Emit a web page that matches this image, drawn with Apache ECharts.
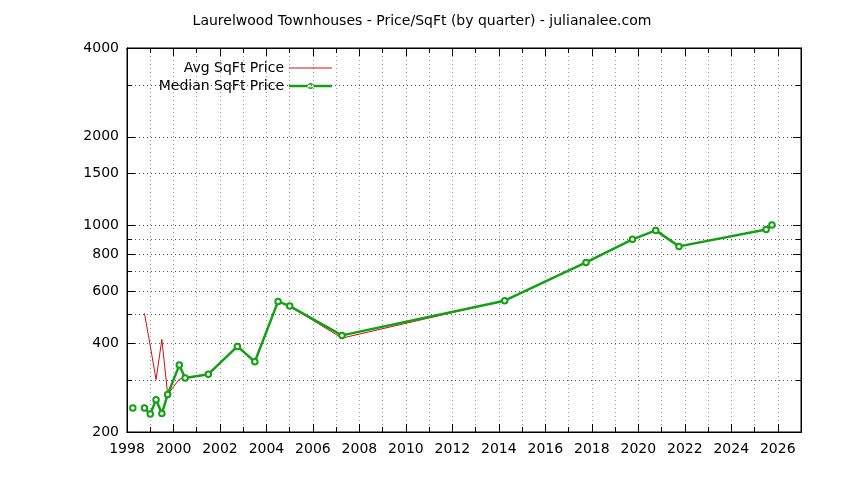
<!DOCTYPE html>
<html lang="en">
<head>
  <meta charset="UTF-8">
  <title>Laurelwood Townhouses - Price/SqFt (by quarter)</title>
  <script src="https://cdn.jsdelivr.net/npm/echarts@6.0.0/dist/echarts.min.js"></script>
  <style>
    * { margin: 0; padding: 0; box-sizing: border-box; }
    body { background: #fff; }
    #chart { width: 844px; height: 480px; }
  </style>
</head>
<body>
  <div id="chart"></div>
  <script>
    // quarter positions as decimal years (null = no sales that quarter)
    var quarters = [1998.25, 1998.5, 1998.75, 1999.0, 1999.25, 1999.5, 1999.75, 2000.25, 2000.5,
      2001.5, 2002.75, 2003.5, 2004.5, 2005.0, 2007.25, 2014.25, 2017.75, 2019.75,
      2020.75, 2021.75, 2025.5, 2025.75];
    var avgPrice = [null, null, 505, 392, 301, 412, 268, 302, 305,
      313, 390, 346, 554, 534, 416, 558, 751, 899,
      964, 851, 971, 1005];
    var medianPrice = [241, null, 241, 230, 257, 231, 268, 337, 305,
      314, 390, 346, 554, 534, 425, 557, 751, 899,
      964, 851, 971, 1005];

    var yMinorTicks = [300, 500, 700, 900, 3000];
    var yMajorTicks = [200, 400, 600, 800, 1000, 1500, 2000, 4000];
    var yAllTicks = [200, 300, 400, 500, 600, 700, 800, 900, 1000, 1500, 2000, 3000, 4000];

    var FONT = 'DejaVu Sans';
    var RED = '#d01010';
    var GREEN = '#14a014';

    function pairs(xs, ys) {
      return xs.map(function (x, i) { return [x, ys[i]]; });
    }

    function xAxisDef(pos, interval, tickLen, withGrid, withLabel) {
      return {
        type: 'value', position: pos, min: 1998, max: 2027, interval: interval,
        axisLine: { show: true, onZero: false, lineStyle: { color: '#000', width: 1 } },
        axisTick: { show: true, inside: true, length: tickLen, lineStyle: { color: '#000' } },
        splitLine: { show: withGrid, lineStyle: { color: '#999', type: [1, 3], width: 1 } },
        axisLabel: {
          show: withLabel, color: '#000', fontFamily: FONT, fontSize: 14, margin: 10,
          formatter: function (v) { return v % 2 === 0 ? String(v) : ''; }
        }
      };
    }

    function yAxisDef(pos, ticks, tickLen, withGrid, withLabel) {
      return {
        type: 'log', logBase: 10, position: pos, min: 200, max: 4000,
        axisLine: { show: true, lineStyle: { color: '#000', width: 1 } },
        axisTick: { show: true, inside: true, length: tickLen, customValues: ticks, lineStyle: { color: '#000' } },
        splitLine: { show: withGrid, lineStyle: { color: '#555', type: [1, 3], width: 1 } },
        axisLabel: {
          show: withLabel, customValues: yMajorTicks, color: '#000', fontFamily: FONT, fontSize: 14, margin: 8,
          formatter: function (v) { return String(Math.round(v)); }
        }
      };
    }

    var chart = echarts.init(document.getElementById('chart'), null, { renderer: 'canvas' });

    var legendBase = {
      orient: 'vertical', align: 'right', right: 507, itemWidth: 43, itemGap: 6,
      itemStyle: { borderWidth: 0 },
      textStyle: { color: '#000', fontFamily: FONT, fontSize: 14 }
    };

    // line sample with a dot in the middle
    var medianIcon = 'path://M0,1.75 L43,1.75 L43,4.25 L0,4.25 Z M18.5,3 A3,3 0 1,0 24.5,3 A3,3 0 1,0 18.5,3 Z';

    var option = {
      animation: false,
      backgroundColor: '#fff',
      title: {
        text: 'Laurelwood Townhouses - Price/SqFt (by quarter) - julianalee.com',
        left: 'center', top: 9,
        textStyle: { color: '#000', fontFamily: FONT, fontSize: 14, fontWeight: 'normal' }
      },
      legend: [
        Object.assign({}, legendBase, { top: 56, itemHeight: 1, data: [{ name: 'Avg SqFt Price', icon: 'rect' }] }),
        Object.assign({}, legendBase, { top: 74, itemHeight: 6, data: [{ name: 'Median SqFt Price', icon: medianIcon }] })
      ],
      grid: { left: 127, right: 43, top: 48, bottom: 48, show: true, borderColor: '#000', borderWidth: 1 },
      xAxis: [
        xAxisDef('bottom', 1, 5, true, false),
        xAxisDef('bottom', 2, 8, false, true),
        xAxisDef('top', 1, 5, false, false),
        xAxisDef('top', 2, 8, false, false)
      ],
      yAxis: [
        yAxisDef('left', yAllTicks, 5, true, false),
        yAxisDef('left', yMajorTicks, 8, false, true),
        yAxisDef('right', yMinorTicks, 5, false, false),
        yAxisDef('right', yMajorTicks, 8, false, false)
      ],
      series: [
        {
          name: 'Avg SqFt Price', type: 'line', xAxisIndex: 0, yAxisIndex: 0,
          data: pairs(quarters, avgPrice), connectNulls: false,
          symbol: 'none', showSymbol: false,
          lineStyle: { color: RED, width: 1 }, itemStyle: { color: RED },
          z: 2
        },
        {
          name: 'Median SqFt Price', type: 'line', xAxisIndex: 0, yAxisIndex: 0,
          data: pairs(quarters, medianPrice), connectNulls: false,
          symbol: 'emptyCircle', symbolSize: 5.5, showSymbol: true,
          lineStyle: { color: GREEN, width: 2.5 },
          itemStyle: { color: GREEN, borderWidth: 1.8 },
          z: 3
        }
      ]
    };

    chart.setOption(option);
  </script>
</body>
</html>
